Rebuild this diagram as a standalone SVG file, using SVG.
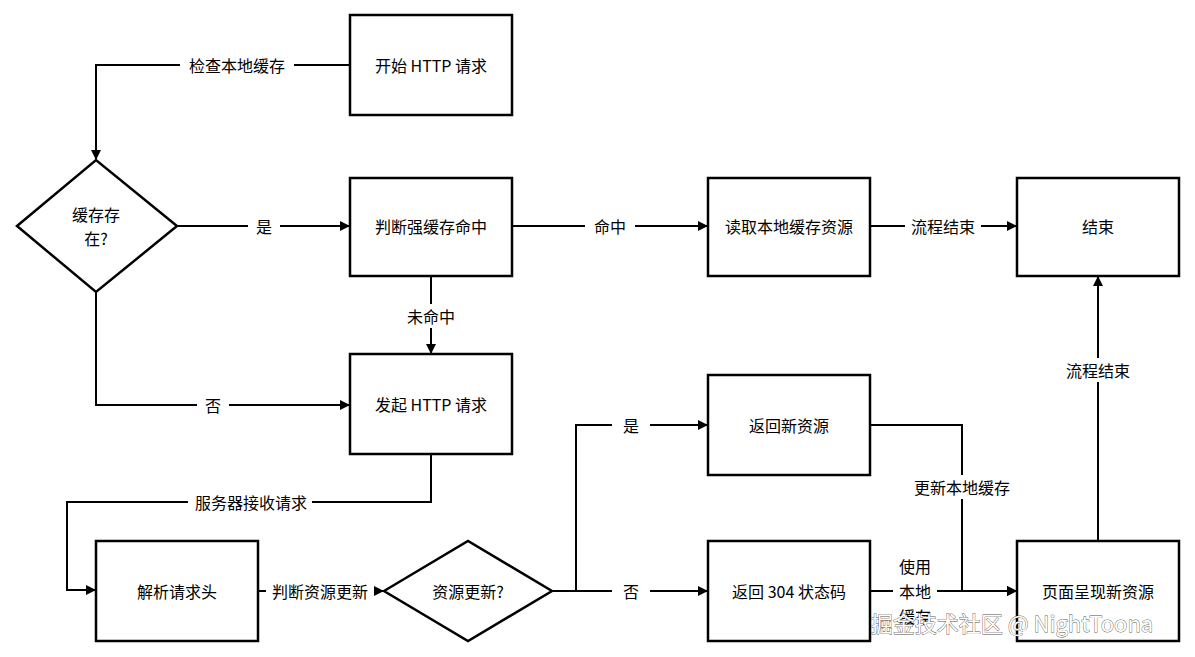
<svg xmlns="http://www.w3.org/2000/svg" width="1195" height="657" viewBox="0 0 1195 657">
<defs>
<marker id="a" markerWidth="10" markerHeight="10" refX="9" refY="5" orient="auto" markerUnits="userSpaceOnUse"><path d="M0,0 L10,5 L0,10 Z" fill="#000"/></marker>
<style>
.n{fill:#fff;stroke:#000;stroke-width:2.5}
.c{fill:none;stroke:#000;stroke-width:2}
text{font-family:"Noto Sans CJK SC","Noto Sans",sans-serif;font-size:16px;text-anchor:middle;dominant-baseline:central;fill:#000}
.l{fill:#fff;stroke:none}
</style>
</defs>
<rect width="1195" height="657" fill="#fff"/>
<g id="connectors">
<path class="c" d="M350,65 H96 V159" marker-end="url(#a)"/>
<path class="c" d="M177,226 H349" marker-end="url(#a)"/>
<path class="c" d="M512,226 H707" marker-end="url(#a)"/>
<path class="c" d="M870,226 H1016" marker-end="url(#a)"/>
<path class="c" d="M431,276 V353" marker-end="url(#a)"/>
<path class="c" d="M96,292 V405 H349" marker-end="url(#a)"/>
<path class="c" d="M431,454 V502 H67 V590 H95" marker-end="url(#a)"/>
<path class="c" d="M258,591 H383" marker-end="url(#a)"/>
<path class="c" d="M552,591 H576 V425 H707" marker-end="url(#a)"/>
<path class="c" d="M576,591 H707" marker-end="url(#a)"/>
<path class="c" d="M870,425 H962 V591 H1016" marker-end="url(#a)"/>
<path class="c" d="M870,591 H1016" marker-end="url(#a)"/>
<path class="c" d="M1098,541 V277" marker-end="url(#a)"/>
<rect class="l" x="180" y="53" width="114" height="24"/><text x="237" y="65">检查本地缓存</text>
<rect class="l" x="248" y="214" width="32" height="24"/><text x="264" y="226">是</text>
<rect class="l" x="585" y="214" width="50" height="24"/><text x="610" y="226">命中</text>
<rect class="l" x="905" y="214" width="76" height="24"/><text x="943" y="226">流程结束</text>
<rect class="l" x="400" y="304" width="62" height="24"/><text x="431" y="316">未命中</text>
<rect class="l" x="197" y="393" width="32" height="24"/><text x="213" y="405">否</text>
<rect class="l" x="188" y="490" width="124" height="24"/><text x="251" y="502">服务器接收请求</text>
<rect class="l" x="266" y="579" width="108" height="24"/><text x="320" y="591">判断资源更新</text>
<rect class="l" x="612" y="413" width="38" height="24"/><text x="631" y="425">是</text>
<rect class="l" x="612" y="579" width="38" height="24"/><text x="631" y="591">否</text>
<rect class="l" x="906" y="475" width="112" height="24"/><text x="962" y="487">更新本地缓存</text>
<rect class="l" x="893" y="553" width="44" height="76"/><text x="915" y="566">使用</text><text x="915" y="591">本地</text><text x="915" y="616">缓存</text>
<rect class="l" x="1060" y="358" width="76" height="24"/><text x="1098" y="370">流程结束</text>
</g>
<g id="start"><rect class="n" x="350" y="15" width="162" height="100"/><text x="431" y="65">开始 HTTP 请求</text></g>
<g id="exists"><polygon class="n" points="17,226 96,160 177,226 96,292"/><text x="96" y="214">缓存存</text><text x="96" y="238">在?</text></g>
<g id="strong"><rect class="n" x="350" y="178" width="162" height="98"/><text x="431" y="226">判断强缓存命中</text></g>
<g id="read"><rect class="n" x="708" y="178" width="162" height="98"/><text x="789" y="226">读取本地缓存资源</text></g>
<g id="end"><rect class="n" x="1017" y="178" width="162" height="98"/><text x="1098" y="226">结束</text></g>
<g id="send"><rect class="n" x="350" y="354" width="162" height="100"/><text x="431" y="404">发起 HTTP 请求</text></g>
<g id="parse"><rect class="n" x="96" y="541" width="162" height="100"/><text x="177" y="591">解析请求头</text></g>
<g id="updated"><polygon class="n" points="384,591 468,541 552,591 468,641"/><text x="468" y="591">资源更新?</text></g>
<g id="new"><rect class="n" x="708" y="375" width="162" height="100"/><text x="789" y="425">返回新资源</text></g>
<g id="r304"><rect class="n" x="708" y="541" width="162" height="100"/><text x="789" y="591">返回 304 状态码</text></g>
<g id="render"><rect class="n" x="1017" y="541" width="162" height="100"/><text x="1098" y="591">页面呈现新资源</text></g>
<text x="1012" y="622" style="font-size:22px;fill:#fff;stroke:#555;stroke-width:0.8;paint-order:stroke">掘金技术社区 @ NightToona</text>
</svg>
